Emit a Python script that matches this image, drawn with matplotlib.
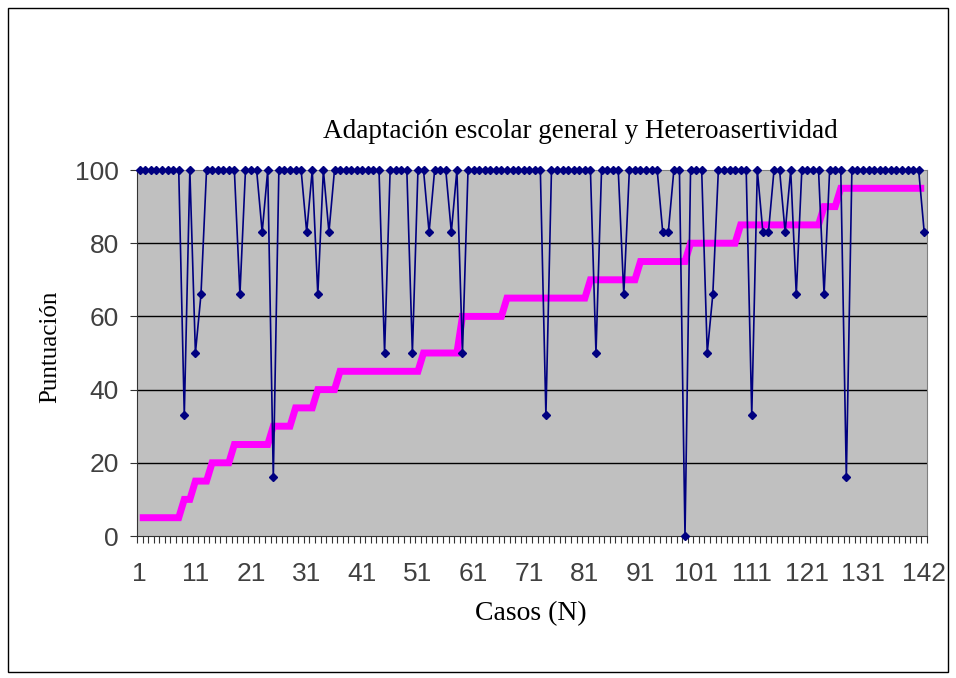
import numpy as np
import matplotlib
matplotlib.use("Agg")
import matplotlib.pyplot as plt
from matplotlib.patches import Rectangle

# Casos 1..142
casos = np.arange(1, 143)

# Adaptación escolar general (serie azul)
adaptacion = [
    100, 100, 100, 100, 100, 100, 100, 100, 33, 100,
    50, 66, 100, 100, 100, 100, 100, 100, 66, 100,
    100, 100, 83, 100, 16, 100, 100, 100, 100, 100,
    83, 100, 66, 100, 83, 100, 100, 100, 100, 100,
    100, 100, 100, 100, 50, 100, 100, 100, 100, 50,
    100, 100, 83, 100, 100, 100, 83, 100, 50, 100,
    100, 100, 100, 100, 100, 100, 100, 100, 100, 100,
    100, 100, 100, 33, 100, 100, 100, 100, 100, 100,
    100, 100, 50, 100, 100, 100, 100, 66, 100, 100,
    100, 100, 100, 100, 83, 83, 100, 100, 0, 100,
    100, 100, 50, 66, 100, 100, 100, 100, 100, 100,
    33, 100, 83, 83, 100, 100, 83, 100, 66, 100,
    100, 100, 100, 66, 100, 100, 100, 16, 100, 100,
    100, 100, 100, 100, 100, 100, 100, 100, 100, 100,
    100, 83,
]

# Heteroasertividad (serie magenta, ordenada)
heteroasertividad = [
    5, 5, 5, 5, 5, 5, 5, 5, 10, 10,
    15, 15, 15, 20, 20, 20, 20, 25, 25, 25,
    25, 25, 25, 25, 30, 30, 30, 30, 35, 35,
    35, 35, 40, 40, 40, 40, 45, 45, 45, 45,
    45, 45, 45, 45, 45, 45, 45, 45, 45, 45,
    45, 50, 50, 50, 50, 50, 50, 50, 60, 60,
    60, 60, 60, 60, 60, 60, 65, 65, 65, 65,
    65, 65, 65, 65, 65, 65, 65, 65, 65, 65,
    65, 70, 70, 70, 70, 70, 70, 70, 70, 70,
    75, 75, 75, 75, 75, 75, 75, 75, 75, 80,
    80, 80, 80, 80, 80, 80, 80, 80, 85, 85,
    85, 85, 85, 85, 85, 85, 85, 85, 85, 85,
    85, 85, 85, 90, 90, 90, 95, 95, 95, 95,
    95, 95, 95, 95, 95, 95, 95, 95, 95, 95,
    95, 95,
]

xtick_labels = [1, 11, 21, 31, 41, 51, 61, 71, 81, 91, 101, 111, 121, 131, 142]
yticks = [0, 20, 40, 60, 80, 100]

W, H = 956, 678
fig = plt.figure(figsize=(W / 100, H / 100), dpi=100)
fig.patch.set_facecolor("white")
fig.patches.append(Rectangle((8 / W, 6 / H), 940 / W, 664 / H, transform=fig.transFigure,
                             fill=False, edgecolor="black", linewidth=1.0))

left, right, top, bottom = 137, 927, 170, 536
ax = fig.add_axes([left / W, 1 - bottom / H, (right - left) / W, (bottom - top) / H])
ax.set_facecolor("#c0c0c0")

for y in yticks[1:-1]:
    ax.axhline(y, color="black", lw=1.0, zorder=1)

ax.plot(casos, heteroasertividad, color="#ff00ff", lw=5.0, solid_capstyle="butt",
        solid_joinstyle="miter", zorder=2)
ax.plot(casos, adaptacion, color="#000080", lw=1.2, marker="D", ms=4,
        mfc="#000080", mec="#000080", zorder=3, clip_on=False)

ax.set_xlim(0.5, 142.5)
ax.set_ylim(0, 100)

tick_font = dict(fontsize=19, color="#404040", family="Liberation Sans")
ax.set_xticks(xtick_labels)
ax.set_xticklabels([str(v) for v in xtick_labels], **tick_font)
ax.set_xticks(np.arange(0.5, 143, 1.0), minor=True)
ax.tick_params(axis="x", which="major", length=0, pad=19)
ax.tick_params(axis="x", which="minor", length=5, width=0.8, color="#333333", direction="out")

ax.set_yticks(yticks)
ax.set_yticklabels([str(v) for v in yticks], **tick_font)
ax.tick_params(axis="y", length=5, width=0.8, color="#333333", direction="out", pad=8)

for side in ("top", "right"):
    ax.spines[side].set_color("#808080")
    ax.spines[side].set_linewidth(0.8)
ax.spines["left"].set_color("#333333")
ax.spines["bottom"].set_color("#333333")

fig.text(580 / W, 1 - 132 / H, "Adaptación escolar general y Heteroasertividad",
         ha="center", va="center", fontsize=19.5, family="Liberation Serif")
fig.text(50 / W, 1 - 347 / H, "Puntuación", ha="center", va="center", rotation=90,
         fontsize=18, family="Liberation Serif")
fig.text(531 / W, 1 - 614 / H, "Casos (N)", ha="center", va="center",
         fontsize=20, family="Liberation Serif")

fig.savefig("out.png", dpi=100)
